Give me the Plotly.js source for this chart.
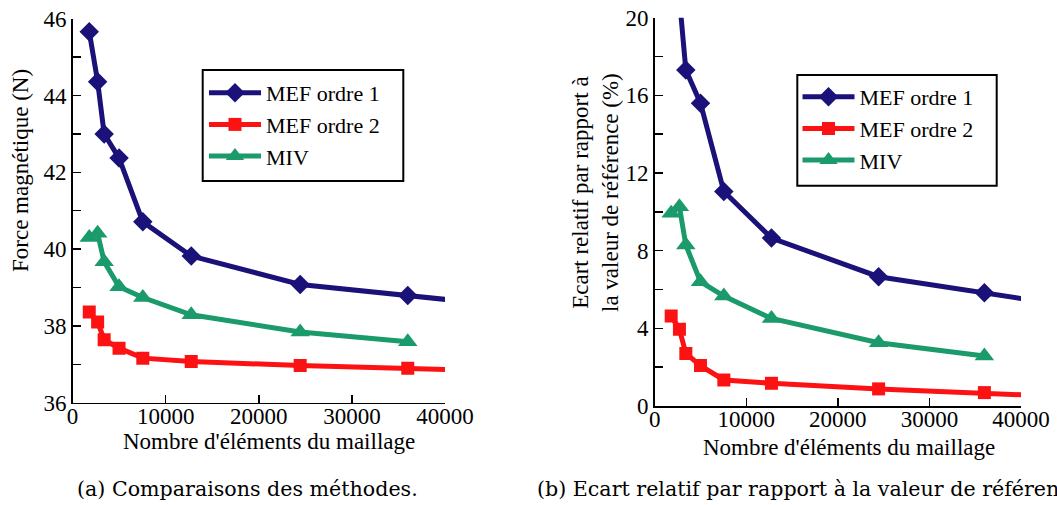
<!DOCTYPE html>
<html>
<head>
<meta charset="utf-8">
<script src="https://cdn.plot.ly/plotly-3.0.1.min.js"></script>
<style>html,body{margin:0;padding:0;background:#fff;}#chart{width:1057px;height:505px;}</style>
</head>
<body>
<div id="chart"></div>
<script>
// ---- data ----
const seriesNames = ["MEF ordre 1", "MEF ordre 2", "MIV"];
// mesh sizes (number of elements); the last value lies beyond the axis end (line continues off-chart)
const nbElements = [1800, 2700, 3400, 5000, 7550, 12750, 24450, 36000, 48000];
const nbElementsMIV = [1800, 2700, 3400, 5000, 7550, 12750, 24450, 36000];
// (a) magnetic force (N)
const forceMEF1 = [45.66, 44.36, 43.00, 42.37, 40.71, 39.82, 39.08, 38.79, 38.49];
const forceMEF2 = [38.36, 38.10, 37.64, 37.42, 37.16, 37.07, 36.97, 36.90, 36.81];
const forceMIV  = [40.30, 40.41, 39.67, 39.02, 38.74, 38.29, 37.84, 37.59];
// (b) relative deviation from reference value (%)
const ecartMEF1 = [24.5, 21.0, 17.3, 15.6, 11.05, 8.65, 6.66, 5.83, 4.96];
const ecartMEF2 = [4.63, 3.95, 2.71, 2.08, 1.34, 1.17, 0.88, 0.69, 0.42];
const ecartMIV  = [9.93, 10.26, 8.29, 6.40, 5.66, 4.51, 3.26, 2.57];
// axis ticks
const xTicks = [0, 10000, 20000, 30000, 40000];
const yTicksA = [36, 38, 40, 42, 44, 46];
const yTicksB = [0, 4, 8, 12, 16, 20];
// texts
const xTitle = "Nombre d'éléments du maillage";
const yTitleA = "Force magnétique (N)";
const yTitleB = "Ecart relatif par rapport à<br>la valeur de référence (%)";
const captionA = "(a) Comparaisons des méthodes.";
const captionB = "(b) Ecart relatif par rapport à la valeur de référence.";

// ---- styling ----
const W = 1057, H = 505;
const fx = p => p / W;
const fy = p => 1 - p / H;
const FONT = "Liberation Serif";
const CAPFONT = "DejaVu Serif";
const colors = ["#1b1279", "#fc1212", "#1b9a6b"];
const symbols = ["diamond", "square", "triangle-up"];
const msizes = [15, 13, 17];

function mk(i, x, y, xa, ya, leg) {
  return {
    type: "scatter", mode: "lines+markers", name: seriesNames[i],
    x: x, y: y, xaxis: xa, yaxis: ya, legend: leg,
    line: {color: colors[i], width: 5},
    marker: {color: colors[i], symbol: symbols[i], size: msizes[i], line: {width: 0}},
    cliponaxis: true
  };
}

const traces = [
  mk(0, nbElements, forceMEF1, "x", "y", "legend"),
  mk(1, nbElements, forceMEF2, "x", "y", "legend"),
  mk(2, nbElementsMIV, forceMIV, "x", "y", "legend"),
  mk(0, nbElements, ecartMEF1, "x2", "y2", "legend2"),
  mk(1, nbElements, ecartMEF2, "x2", "y2", "legend2"),
  mk(2, nbElementsMIV, ecartMIV, "x2", "y2", "legend2")
];

const axisBase = {
  showline: true, linecolor: "black", linewidth: 1.5, mirror: false,
  showgrid: false, zeroline: false,
  ticks: "inside", ticklen: 8, tickwidth: 1.5, tickcolor: "black",
  tickfont: {family: FONT, size: 23, color: "black"}
};
const xBase = Object.assign({}, axisBase, {
  range: [0, 40000], tickmode: "array", tickvals: xTicks, ticktext: xTicks.map(String), ticklabelstandoff: -8
});

const legendBase = {
  bgcolor: "rgba(0,0,0,0)", borderwidth: 0,
  font: {family: FONT, size: 22, color: "black"},
  xanchor: "left", yanchor: "top", xref: "paper", yref: "paper",
  tracegroupgap: 0, itemwidth: 52
};

const ann = (text, x, y, size, extra, fam) => Object.assign({
  text: text, x: x, y: y, xref: "paper", yref: "paper", showarrow: false,
  xanchor: "center", yanchor: "middle", font: {family: fam || FONT, size: size, color: "black"}
}, extra || {});

const box = (l, t, r, b) => ({
  type: "rect", xref: "paper", yref: "paper", layer: "above",
  x0: fx(l), x1: fx(r), y0: fy(b), y1: fy(t),
  line: {color: "black", width: 2}, fillcolor: "rgba(0,0,0,0)"
});

const layout = {
  width: W, height: H,
  margin: {l: 0, r: 0, t: 0, b: 0},
  paper_bgcolor: "white", plot_bgcolor: "white",
  showlegend: true,
  xaxis: Object.assign({}, xBase, {domain: [fx(72.5), fx(445)], anchor: "y"}),
  yaxis: Object.assign({}, axisBase, {
    domain: [fy(402.7), fy(18.7)], range: [36, 46], anchor: "x",
    tickmode: "array", tickvals: yTicksA, ticktext: yTicksA.map(String), ticklabelstandoff: 0,
    minor: {dtick: 1, tick0: 36, ticks: "inside", ticklen: 8, tickwidth: 1.5, tickcolor: "black", showgrid: false}
  }),
  xaxis2: Object.assign({}, xBase, {domain: [fx(654.7), fx(1021)], anchor: "y2"}),
  yaxis2: Object.assign({}, axisBase, {
    domain: [fy(406), fy(17.7)], range: [0, 20], anchor: "x2",
    tickmode: "array", tickvals: yTicksB, ticktext: yTicksB.map(String), ticklabelstandoff: 0,
    minor: {dtick: 2, tick0: 0, ticks: "inside", ticklen: 8, tickwidth: 1.5, tickcolor: "black", showgrid: false}
  }),
  legend: Object.assign({}, legendBase, {x: fx(204), y: fy(72)}),
  legend2: Object.assign({}, legendBase, {x: fx(797.5), y: fy(76)}),
  shapes: [box(202.7, 70, 403.3, 181), box(797.3, 75, 996.7, 185.7)],
  annotations: [
    ann(yTitleA, fx(20), fy(171), 23, {textangle: -90}),
    ann(yTitleB, fx(595), fy(193), 23, {textangle: -90}),
    ann(xTitle, fx(269), fy(441), 23),
    ann(xTitle, fx(849), fy(447), 23),
    ann(captionA, fx(75), fy(489), 20.6, {xanchor: "left"}, CAPFONT),
    ann(captionB, fx(535), fy(489), 20.6, {xanchor: "left"}, CAPFONT)
  ]
};

Plotly.newPlot("chart", traces, layout, {staticPlot: true, displayModeBar: false});
</script>
</body>
</html>
